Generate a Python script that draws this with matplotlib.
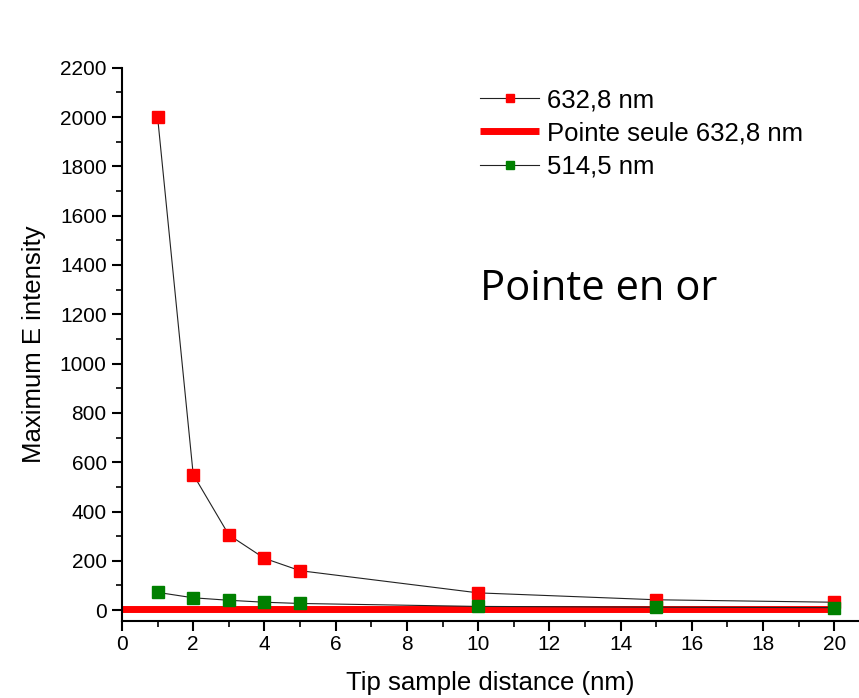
import matplotlib
matplotlib.use('Agg')
from matplotlib import pyplot as plt
from matplotlib.ticker import MultipleLocator

plt.rcParams['font.family'] = ['Liberation Sans', 'DejaVu Sans']

# data
dist = [1, 2, 3, 4, 5, 10, 15, 20]
red_632 = [2000, 550, 305, 210, 160, 70, 42, 32]
green_514 = [72, 50, 40, 32, 27, 15, 12, 10]
tip_only_x = [0, 20]
tip_only = [5, 5]

fig = plt.figure(figsize=(8.59, 6.98), dpi=100)
ax = fig.add_axes([0.142, 0.110, 0.857, 0.793])

ax.plot(tip_only_x, tip_only, color='#ff0000', lw=5, solid_capstyle='butt',
        label='Pointe seule 632,8 nm', zorder=2)
ax.plot(dist, red_632, color='#222222', lw=0.8, marker='s', markersize=8,
        markerfacecolor='#ff0000', markeredgecolor='#ff0000', label='632,8 nm', zorder=3)
ax.plot(dist, green_514, color='#222222', lw=0.8, marker='s', markersize=8,
        markerfacecolor='#008000', markeredgecolor='#008000', label='514,5 nm', zorder=3)

ax.set_xlim(0, 20.67)
ax.set_ylim(-45, 2200)
ax.xaxis.set_major_locator(MultipleLocator(2))
ax.xaxis.set_minor_locator(MultipleLocator(1))
ax.yaxis.set_major_locator(MultipleLocator(200))
ax.yaxis.set_minor_locator(MultipleLocator(100))
ax.spines['top'].set_visible(False)
ax.spines['right'].set_visible(False)
for s in ['left', 'bottom']:
    ax.spines[s].set_linewidth(1.5)
ax.tick_params(which='major', direction='out', length=7, width=1.5, labelsize=15, pad=4)
ax.tick_params(which='minor', direction='out', length=4, width=1.2)
ax.tick_params(axis='x', which='major', pad=3)

ax.set_xlabel('Tip sample distance (nm)', fontsize=18.5, labelpad=12)
ax.set_ylabel('Maximum E intensity', fontsize=18.5, labelpad=10)

h, l = ax.get_legend_handles_labels()
order = [1, 0, 2]
leg = ax.legend([h[i] for i in order], [l[i] for i in order], loc='upper left',
                bbox_to_anchor=(0.455, 1.005), frameon=False, fontsize=18.5,
                handlelength=2.3, handletextpad=0.3, labelspacing=0.36,
                markerscale=0.75)

ax.text(0.487, 0.58, 'Pointe en or', transform=ax.transAxes, fontsize=30,
        family=['Open Sans', 'DejaVu Sans'])

fig.savefig('out.png', dpi=100)
